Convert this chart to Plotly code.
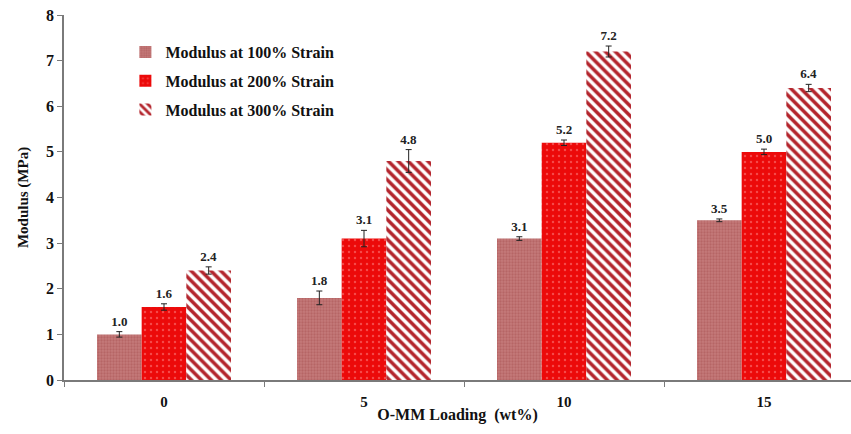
import plotly.graph_objects as go

# Organoclay loading levels (wt%)
loadings = ["0", "5", "10", "15"]

# Tensile modulus (MPa) at each strain level, with standard deviations
modulus_100 = [1.0, 1.8, 3.1, 3.5]
modulus_200 = [1.6, 3.1, 5.2, 5.0]
modulus_300 = [2.4, 4.8, 7.2, 6.4]

err_100 = [0.06, 0.15, 0.04, 0.03]
err_200 = [0.07, 0.18, 0.06, 0.06]
err_300 = [0.08, 0.25, 0.12, 0.08]

series_names = [
    "Modulus at 100% Strain",
    "Modulus at 200% Strain",
    "Modulus at 300% Strain",
]

FONT = "Liberation Serif"

styles = [
    dict(color="#c47a7a",
         pattern=dict(shape=".", size=3, solidity=0.45, fgcolor="#a85050",
                      fillmode="overlay")),
    dict(color="#ec0a0a",
         pattern=dict(shape=".", size=6, solidity=0.12, fgcolor="#ff8c8c",
                      fillmode="overlay")),
    dict(color="#ffffff",
         pattern=dict(shape="\\", size=7, solidity=0.5, fgcolor="#b3242c",
                      bgcolor="#ffffff", fillmode="replace")),
]

values = [modulus_100, modulus_200, modulus_300]
errors = [err_100, err_200, err_300]

fig = go.Figure()

for i, (name, vals, errs, st) in enumerate(zip(series_names, values, errors, styles)):
    fig.add_trace(go.Bar(
        x=loadings, y=vals, name=name,
        offsetgroup=str(i), legendgroup=str(i),
        marker=dict(color=st["color"], pattern=st["pattern"], line=dict(width=0)),
        error_y=dict(type="data", array=errs, visible=True,
                     thickness=1, width=3, color="#222222"),
    ))

# value labels placed just above each error bar
for i, (vals, errs) in enumerate(zip(values, errors)):
    tops = [v + e for v, e in zip(vals, errs)]
    fig.add_trace(go.Bar(
        x=loadings, y=[0.001] * len(vals), base=tops,
        offsetgroup=str(i), showlegend=False, hoverinfo="skip",
        marker=dict(color="rgba(0,0,0,0)", line=dict(width=0)),
        text=[f"{v:.1f}" for v in vals], textposition="outside",
        textfont=dict(family=FONT, size=13, color="#222222", weight="bold"),
        cliponaxis=False,
    ))

fig.update_layout(
    width=851, height=434,
    margin=dict(l=64, r=0, t=15, b=54),
    paper_bgcolor="white", plot_bgcolor="white",
    barmode="group", bargap=0.33, bargroupgap=0,
    font=dict(family=FONT, color="#111111"),
    legend=dict(
        x=0.078, y=0.945, xanchor="left", yanchor="top",
        bgcolor="rgba(0,0,0,0)",
        font=dict(family=FONT, size=16, color="#111111", weight="bold"),
        tracegroupgap=5, itemwidth=30,
    ),
    xaxis=dict(
        type="category", range=[-0.5, 3.435],
        showline=True, linecolor="#7a7a7a", linewidth=1.5,
        ticks="outside", tickson="boundaries", ticklen=5, tickcolor="#7a7a7a",
        ticklabelstandoff=7,
        tickfont=dict(family=FONT, size=15, color="#111111", weight="bold"),
        showgrid=False, zeroline=False,
        title=dict(text="O-MM Loading  (wt%)", standoff=0,
                   font=dict(family=FONT, size=16, color="#111111", weight="bold")),
    ),
    yaxis=dict(
        range=[0, 8], dtick=1,
        showline=True, linecolor="#7a7a7a", linewidth=1.5,
        ticks="outside", ticklen=5, tickcolor="#7a7a7a",
        tickfont=dict(family=FONT, size=16, color="#111111", weight="bold"),
        showgrid=False, zeroline=False,
        title=dict(text="Modulus (MPa)", standoff=14,
                   font=dict(family=FONT, size=15, color="#111111", weight="bold")),
    ),
)

fig.write_html("out.html")
